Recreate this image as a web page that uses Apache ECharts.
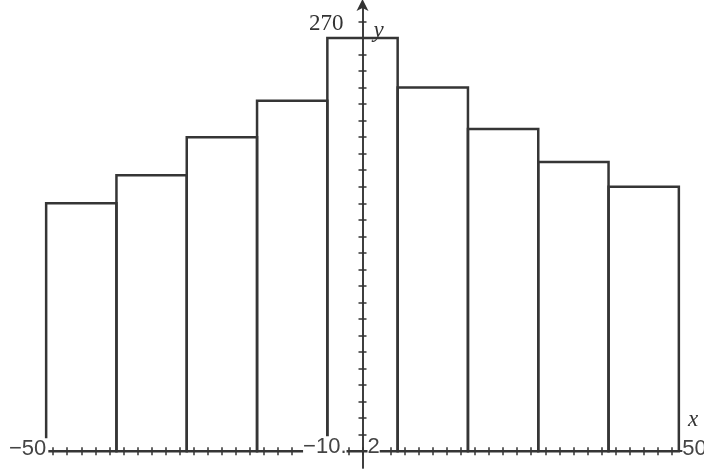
<!DOCTYPE html>
<html><head><meta charset="utf-8">
<script src="https://cdn.jsdelivr.net/npm/echarts@6/dist/echarts.min.js"></script>
<style>html,body{margin:0;padding:0;background:#fff;overflow:hidden;width:704px;height:469px}#c{width:714px;height:469px}</style>
</head><body><div id="c"></div>
<script>
// Histogram bins (start of each bin), bin width, and bar heights
const binStarts = [-45, -35, -25, -15, -5, 5, 15, 25, 35];
const binWidth = 10;
const counts = [150, 167, 190, 212, 250, 220, 195, 175, 160];
// Viewing window
const xMin = -50, xMax = 50, xStep = 2;
const yMin = -10.2, yMax = 270, yStep = 10;
// Window labels as printed
const xMinLabel = '\u221250';
const xMaxLabel = '50';
const yMaxLabel = '270';
const yMinLabelA = '\u221210.';
const yMinLabelB = '2';

const xTicks = [];
for (let v = xMin + xStep; v < xMax; v += xStep) xTicks.push(v);
const yTicks = [];
for (let v = yStep; v < yMax; v += yStep) yTicks.push(v);

const ink = '#333';
const chart = echarts.init(document.getElementById('c'));
const axisCommon = {
  type: 'value', splitLine: {show: false}, axisLabel: {show: false},
};
const mkX = (inside, pos) => Object.assign({}, axisCommon, {
  min: xMin, max: xMax, position: pos,
  axisLine: {show: true, onZero: true, onZeroAxisIndex: 0, lineStyle: {color: ink, width: 1.5}},
  axisTick: {show: true, inside: inside, length: 4, customValues: xTicks, lineStyle: {color: ink, width: 1.5}}
});
const mkY = (inside, arrow, pos) => Object.assign({}, axisCommon, {
  min: yMin, max: yMax, position: pos,
  axisLine: {show: true, onZero: true, onZeroAxisIndex: 0, symbol: arrow ? ['none', 'arrow'] : ['none', 'none'], symbolSize: [9, 12], symbolOffset: [0, 6],
    lineStyle: {color: ink, width: 1.5}},
  axisTick: {show: true, inside: inside, length: 4, customValues: yTicks, lineStyle: {color: ink, width: 1.5}}
});

chart.setOption({
  animation: false,
  backgroundColor: '#fff',
  grid: {left: 11, right: 0, top: 5, bottom: 1},
  xAxis: [mkX(false, 'bottom'), mkX(true, 'bottom')],
  yAxis: [mkY(false, true, 'left'), mkY(true, false, 'left')],
  series: [{
    type: 'custom',
    z: 1,
    data: binStarts.map((s, i) => [s, s + binWidth, counts[i]]),
    encode: {x: [0, 1], y: 2},
    renderItem: (params, api) => {
      const p0 = api.coord([api.value(0), 0]);
      const p1 = api.coord([api.value(1), api.value(2)]);
      return {type: 'rect', shape: {x: p0[0], y: p1[1], width: p1[0] - p0[0], height: p0[1] - p1[1]},
        style: {fill: 'none', stroke: '#353535', lineWidth: 2.5}};
    }
  }]
});

const px = (x, y) => chart.convertToPixel({xAxisIndex: 0, yAxisIndex: 0}, [x, y]);
const o = px(0, 0), pMin = px(xMin, 0);
const sans = {fontFamily: 'Liberation Sans', fontSize: 22, fill: '#444'};
const serif = {fontFamily: 'Liberation Serif', fontSize: 23, fill: '#333'};
chart.setOption({
  graphic: [
    {type: 'text', z: 100, x: pMin[0] - 2, y: o[1] - 2, style: Object.assign({text: xMinLabel, verticalAlign: 'middle', align: 'left', backgroundColor: '#fff', padding: [0, 2, 0, 0]}, sans)},
    {type: 'text', z: 100, x: px(45.5, 0)[0], y: o[1] - 2, style: Object.assign({text: xMaxLabel, verticalAlign: 'middle', align: 'left', backgroundColor: '#fff'}, sans)},
    {type: 'text', z: 100, x: o[0] - 16, y: o[1] - 4, style: Object.assign({text: yMinLabelA, verticalAlign: 'middle', align: 'right', backgroundColor: '#fff'}, sans)},
    {type: 'text', z: 100, x: o[0] + 5, y: o[1] - 4, style: Object.assign({text: yMinLabelB, verticalAlign: 'middle', align: 'left', backgroundColor: '#fff'}, sans)},
    {type: 'text', z: 100, x: o[0] - 19, y: 24, style: Object.assign({text: yMaxLabel, verticalAlign: 'middle', align: 'right'}, serif)},
    {type: 'text', z: 100, x: o[0] + 11, y: 31, style: Object.assign({text: 'y', verticalAlign: 'middle', align: 'left', fontStyle: 'italic'}, serif)},
    {type: 'text', z: 100, x: 688, y: 420, style: Object.assign({text: 'x', verticalAlign: 'middle', align: 'left', fontStyle: 'italic'}, serif)}
  ]
});
</script></body></html>
